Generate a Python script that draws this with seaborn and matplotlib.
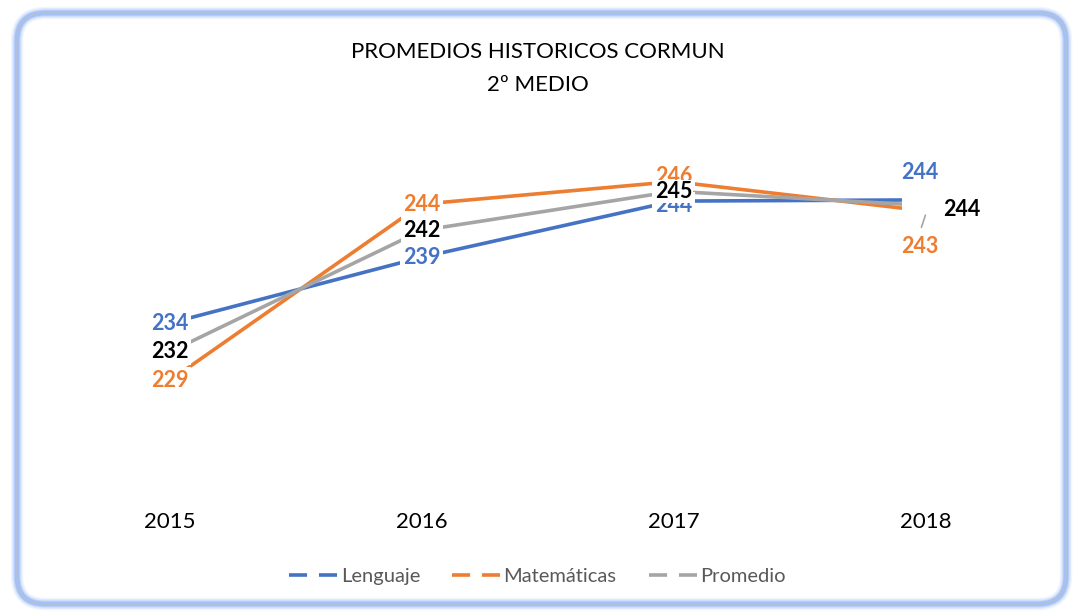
import matplotlib.pyplot as plt
import seaborn as sns
import pandas as pd
from matplotlib.lines import Line2D
from matplotlib.patches import FancyBboxPatch, Rectangle

# Datos
anios = [2015, 2016, 2017, 2018]
lenguaje = [234.0, 239.4, 244.0, 244.1]
matematicas = [229.3, 243.75, 245.6, 243.2]
promedio = [231.65, 241.6, 244.8, 243.65]
series = ['Lenguaje', 'Matemáticas', 'Promedio']
colores = {'Lenguaje': '#4472C4', 'Matemáticas': '#ED7D31', 'Promedio': '#A5A5A5'}
color_etiqueta = {'Lenguaje': '#4472C4', 'Matemáticas': '#ED7D31', 'Promedio': '#000000'}

sns.set_style('white')
plt.rcParams['font.family'] = ['Lato', 'DejaVu Sans']

df = pd.DataFrame({
    'anio': anios * 3,
    'valor': lenguaje + matematicas + promedio,
    'serie': [s for s in series for _ in anios],
})

fig = plt.figure(figsize=(10.75, 6.15), dpi=100)
fig.patch.set_facecolor('white')

# Marco redondeado con brillo azul
for lw, alpha in [(9, 0.12), (7, 0.2), (5, 0.35), (3.5, 0.6)]:
    fig.patches.append(FancyBboxPatch((0.17, 0.11), 10.49, 5.91,
                                      boxstyle='round,pad=0,rounding_size=0.28',
                                      transform=fig.dpi_scale_trans, fill=False,
                                      edgecolor='#8EB4F8', lw=lw, alpha=alpha))
fig.patches.append(FancyBboxPatch((0.17, 0.11), 10.49, 5.91,
                                  boxstyle='round,pad=0,rounding_size=0.28',
                                  transform=fig.dpi_scale_trans, fill=False,
                                  edgecolor='#BFBFBF', lw=0.8))

ax = fig.add_axes([0.041, 0.197, 0.937, 0.595])
sns.lineplot(data=df, x='anio', y='valor', hue='serie', palette=colores,
             linewidth=2.6, ax=ax, legend=False, zorder=2)

ax.set_xlim(2014.5, 2018.5)
ax.set_ylim(220, 250)
ax.set_xticks(anios)
ax.set_xticklabels([str(a) for a in anios], fontsize=16, color='#000000')
ax.set_yticks([])
ax.tick_params(axis='x', length=0, pad=13)
ax.set_xlabel('')
ax.set_ylabel('')
for sp in ax.spines.values():
    sp.set_visible(False)

datos = {'Lenguaje': lenguaje, 'Matemáticas': matematicas, 'Promedio': promedio}

# Etiquetas de 2015 a 2017 sobre los puntos (en 2017 se solapan un poco)
ajuste_2017 = {'Lenguaje': (0, -3), 'Matemáticas': (0, 3.5), 'Promedio': (0, 0)}
orden = ['Lenguaje', 'Matemáticas', 'Promedio']
for s in orden:
    for a, v in zip(anios[:3], datos[s][:3]):
        off = ajuste_2017[s] if a == 2017 else (0, 0)
        pad = 0.04 if (a == 2017 and s == 'Promedio') else 0.12
        ax.annotate(f'{v:.0f}', (a, v), xytext=off, textcoords='offset points',
                    ha='center', va='center', fontsize=15.5, fontweight='bold',
                    color=color_etiqueta[s], zorder=5,
                    bbox=dict(boxstyle=f'square,pad={pad}', fc='white', ec='none'))

# 2018: etiquetas desplazadas
ult = anios[-1]
ax.add_patch(Rectangle((ult - 0.095, promedio[-1] - 1.1), 0.19, 2.2,
                       facecolor='white', edgecolor='none', zorder=3))
desplaz = {'Lenguaje': (-4, 20), 'Promedio': (26, -3), 'Matemáticas': (-4, -26)}
for s in series:
    v = datos[s][-1]
    ax.annotate(f'{v:.0f}', (ult, v), xytext=desplaz[s], textcoords='offset points',
                ha='center', va='center', fontsize=15.5, fontweight='bold',
                color=color_etiqueta[s], zorder=5)
ax.plot([ult, ult - 0.016], [promedio[-1] - 0.8, promedio[-1] - 1.8],
        color='#A5A5A5', lw=1.2, zorder=4)

fig.text(0.5, 1 - 52 / 615, 'PROMEDIOS HISTORICOS CORMUN', ha='center', va='center',
         fontsize=16, color='#000000')
fig.text(0.5, 1 - 85 / 615, '2º MEDIO', ha='center', va='center',
         fontsize=16, color='#000000')

handles = [Line2D([], [], color=colores[s], lw=2.6, linestyle=(0, (5, 3.3)))
           for s in series]
fig.legend(handles, series, loc='center', bbox_to_anchor=(0.5, 1 - 576 / 615),
           ncol=3, frameon=False, fontsize=14.5, labelcolor='#595959',
           handlelength=2.4, handletextpad=0.15, columnspacing=1.6)

plt.savefig('out.png', dpi=100)
